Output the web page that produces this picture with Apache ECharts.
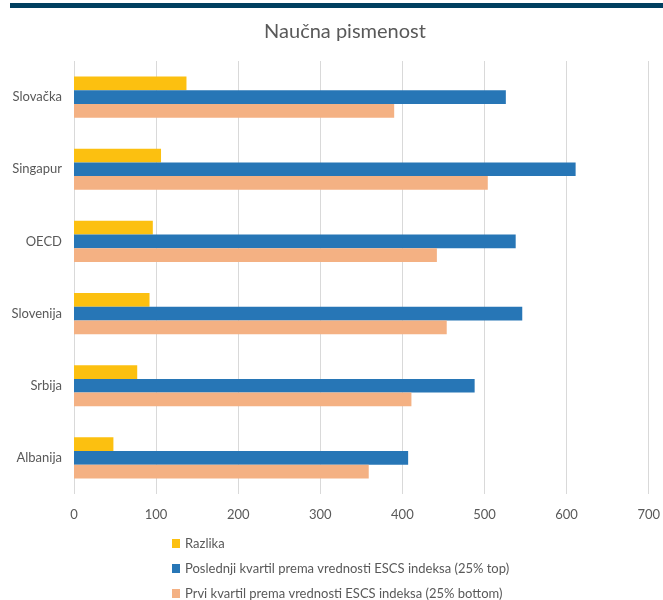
<!DOCTYPE html>
<html>
<head>
<meta charset="utf-8">
<script src="https://cdn.jsdelivr.net/npm/echarts@6/dist/echarts.min.js"></script>
<style>html,body{margin:0;padding:0;background:#fff}#c{width:663px;height:600px}</style>
</head>
<body>
<div id="c"></div>
<script>
const categories = ['Slovačka', 'Singapur', 'OECD', 'Slovenija', 'Srbija', 'Albanija'];
const razlika = [137, 106, 96, 92, 77, 48];
const poslednji = [526, 611, 538, 546, 488, 407];
const prvi = [390, 504, 442, 454, 411, 359];
const seriesNames = ['Razlika', 'Poslednji kvartil prema vrednosti ESCS indeksa (25% top)', 'Prvi kvartil prema vrednosti ESCS indeksa (25% bottom)'];
const colors = ['#FCC010', '#2776B6', '#F4B183'];

const chart = echarts.init(document.getElementById('c'));
const font = 'Lato, "Open Sans", sans-serif';
chart.setOption({
  animation: false,
  color: colors,
  textStyle: { fontFamily: font },
  title: {
    text: 'Naučna pismenost', left: 340, top: 17, textAlign: 'center',
    textStyle: { fontFamily: font, fontSize: 20, fontWeight: 'normal', color: '#595959' }
  },
  graphic: [{ type: 'rect', shape: { x: 10, y: 3, width: 660, height: 5 }, style: { fill: '#003F60' } }],
  grid: { left: 74, right: 7, top: 61, bottom: 106, containLabel: false },
  xAxis: {
    type: 'value', min: 0, max: 700, interval: 100,
    axisLine: { show: false }, axisTick: { show: false },
    splitLine: { lineStyle: { color: '#D9D9D9', width: 1 } },
    axisLabel: { color: '#595959', fontSize: 13, margin: 14, fontFamily: font }
  },
  yAxis: {
    type: 'category', data: categories, inverse: true,
    axisLine: { show: false }, axisTick: { show: false },
    axisLabel: { color: '#595959', fontSize: 13, margin: 12, fontFamily: font }
  },
  legend: {
    orient: 'vertical', left: 172, top: 537, height: 90, itemWidth: 8, itemHeight: 9, itemGap: 12,
    icon: 'rect', padding: [0, 0, 0, 0],
    textStyle: { color: '#595959', fontSize: 13, fontFamily: font, lineHeight: 13 },
    data: seriesNames
  },
  series: [
    { name: seriesNames[0], type: 'bar', data: razlika, barGap: '0%', barCategoryGap: '43%' },
    { name: seriesNames[1], type: 'bar', data: poslednji, barGap: '0%', barCategoryGap: '43%' },
    { name: seriesNames[2], type: 'bar', data: prvi, barGap: '0%', barCategoryGap: '43%' }
  ]
});
</script>
</body>
</html>
